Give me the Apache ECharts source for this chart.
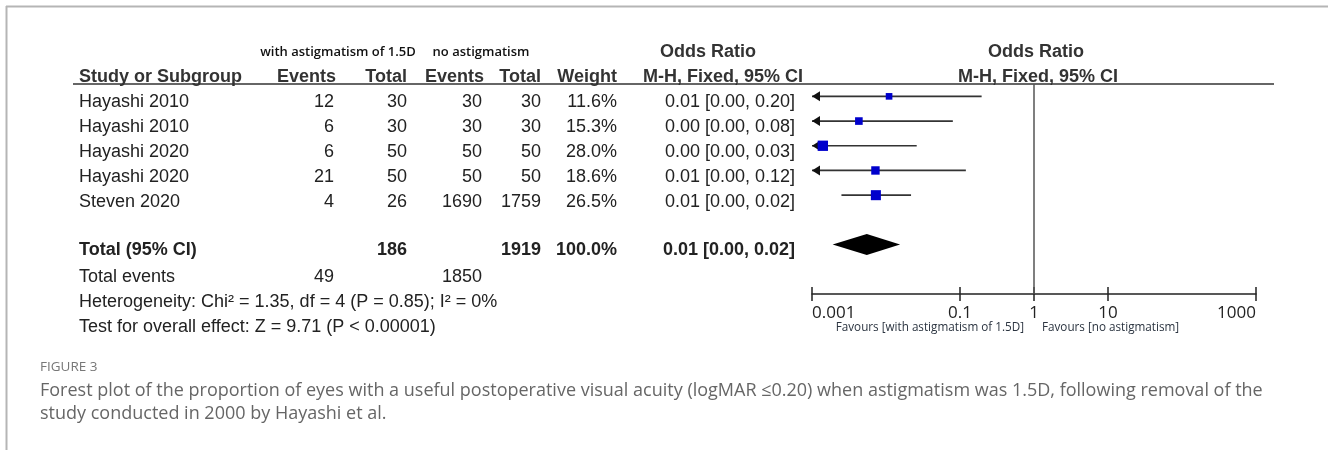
<!DOCTYPE html>
<html>
<head>
<meta charset="utf-8">
<script src="https://cdn.jsdelivr.net/npm/echarts@6/dist/echarts.min.js"></script>
<style>
html, body { margin: 0; padding: 0; background: #fff; }
#echart-box { width: 1328px; height: 450px; }
</style>
</head>
<body>
<div id="echart-box"></div>
<script>
// study data
var studies = ['Hayashi 2010', 'Hayashi 2010', 'Hayashi 2020', 'Hayashi 2020', 'Steven 2020'];
var eventsA = [12, 6, 6, 21, 4];
var totalA = [30, 30, 50, 50, 26];
var eventsB = [30, 30, 50, 50, 1690];
var totalB = [30, 30, 50, 50, 1759];
var weights = [11.6, 15.3, 28.0, 18.6, 26.5];
var oddsRatio = [0.011, 0.0043, 0.0014, 0.0072, 0.0073];
var ciLow = [0.0006, 0.0002, 0.0001, 0.0004, 0.0025];
var ciHigh = [0.196, 0.08, 0.026, 0.12, 0.0218];
var pooledOR = 0.0055;
var pooledLow = 0.0019;
var pooledHigh = 0.0155;
var axisTicks = [0.001, 0.1, 1, 10, 1000];

var X_MIN = 0.001, X_MAX = 1000;
var TOTAL_ROW = 6;

function sum(a) { return a.reduce(function (s, v) { return s + v; }, 0); }
function fmtCI(or, lo, hi) {
  return or.toFixed(2) + ' [' + lo.toFixed(2) + ', ' + hi.toFixed(2) + ']';
}

var SANS = '"Liberation Sans", Arial, sans-serif';
var SOFT = '"Open Sans", sans-serif';

function txt(x, y, text, align, opts) {
  opts = opts || {};
  return {
    type: 'text', x: x, y: y, silent: true,
    style: {
      text: text,
      fill: opts.color || '#222',
      font: (opts.weight || 'normal') + ' ' + (opts.size || 18) + 'px ' + (opts.family || SANS),
      align: align,
      verticalAlign: 'middle'
    }
  };
}

function init() {
  const element = document.getElementById('echart-box');
  const instance = echarts.init(element);

  var graphics = [];
  // frame of the figure panel
  graphics.push({ type: 'line', shape: { x1: 6.5, y1: 6, x2: 6.5, y2: 450 }, style: { stroke: '#b5b5b5', lineWidth: 2 } });
  graphics.push({ type: 'line', shape: { x1: 6, y1: 6.5, x2: 1328, y2: 6.5 }, style: { stroke: '#b5b5b5', lineWidth: 2 } });
  // header rule
  graphics.push({ type: 'line', shape: { x1: 73, y1: 84, x2: 1274, y2: 84 }, style: { stroke: '#333', lineWidth: 1.5 } });

  var hd = { weight: 'bold', color: '#333' };
  var grp = { weight: '600', size: 13, family: SOFT, color: '#111' };
  graphics.push(txt(338, 52, 'with astigmatism of 1.5D', 'center', grp));
  graphics.push(txt(481, 52, 'no astigmatism', 'center', grp));
  graphics.push(txt(708, 52, 'Odds Ratio', 'center', hd));
  graphics.push(txt(1036, 52, 'Odds Ratio', 'center', hd));

  var hy = 77;
  graphics.push(txt(79, hy, 'Study or Subgroup', 'left', hd));
  graphics.push(txt(336, hy, 'Events', 'right', hd));
  graphics.push(txt(407, hy, 'Total', 'right', hd));
  graphics.push(txt(484, hy, 'Events', 'right', hd));
  graphics.push(txt(541, hy, 'Total', 'right', hd));
  graphics.push(txt(617, hy, 'Weight', 'right', hd));
  graphics.push(txt(803, hy, 'M-H, Fixed, 95% CI', 'right', hd));
  graphics.push(txt(1038, hy, 'M-H, Fixed, 95% CI', 'center', hd));

  for (var i = 0; i < studies.length; i++) {
    var y = 102.5 + i * 25;
    graphics.push(txt(79, y, studies[i], 'left'));
    graphics.push(txt(334, y, String(eventsA[i]), 'right'));
    graphics.push(txt(407, y, String(totalA[i]), 'right'));
    graphics.push(txt(482, y, String(eventsB[i]), 'right'));
    graphics.push(txt(541, y, String(totalB[i]), 'right'));
    graphics.push(txt(617, y, weights[i].toFixed(1) + '%', 'right'));
    graphics.push(txt(795, y, fmtCI(oddsRatio[i], ciLow[i], ciHigh[i]), 'right'));
  }

  var bold = { weight: 'bold' };
  var ty = 250;
  graphics.push(txt(79, ty, 'Total (95% CI)', 'left', bold));
  graphics.push(txt(407, ty, String(sum(totalA)), 'right', bold));
  graphics.push(txt(541, ty, String(sum(totalB)), 'right', bold));
  graphics.push(txt(617, ty, sum(weights).toFixed(1) + '%', 'right', bold));
  graphics.push(txt(795, ty, fmtCI(pooledOR, pooledLow, pooledHigh), 'right', bold));

  graphics.push(txt(79, 277, 'Total events', 'left'));
  graphics.push(txt(334, 277, String(sum(eventsA)), 'right'));
  graphics.push(txt(482, 277, String(sum(eventsB)), 'right'));
  graphics.push(txt(79, 302, 'Heterogeneity: Chi\u00b2 = 1.35, df = 4 (P = 0.85); I\u00b2 = 0%', 'left'));
  graphics.push(txt(79, 327, 'Test for overall effect: Z = 9.71 (P < 0.00001)', 'left'));

  var fav = { size: 11.7, family: SOFT, color: '#2b3440' };
  graphics.push(txt(1024, 328, 'Favours [with astigmatism of 1.5D]', 'right', fav));
  graphics.push(txt(1042, 328, 'Favours [no astigmatism]', 'left', fav));

  // caption
  graphics.push(txt(40, 367, 'FIGURE 3', 'left', { size: 13.5, family: SOFT, color: '#777' }));
  var cap = { size: 18, family: SOFT, color: '#666' };
  graphics.push(txt(40, 391, 'Forest plot of the proportion of eyes with a useful postoperative visual acuity (logMAR \u22640.20) when astigmatism was 1.5D, following removal of the', 'left', cap));
  graphics.push(txt(40, 414, 'study conducted in 2000 by Hayashi et al.', 'left', cap));

  var studyData = [];
  for (var k = 0; k < studies.length; k++) {
    studyData.push([ciLow[k], ciHigh[k], oddsRatio[k], k, weights[k]]);
  }

  var plotGrid = { left: 812, right: 72, top: 84, bottom: 156 };

  option = {
    animation: false,
    backgroundColor: '#fff',
    textStyle: { fontFamily: SANS },
    // second grid is the same box, only used for the upper half of the crossing ticks
    grid: [plotGrid, plotGrid],
    xAxis: [
      {
        type: 'log', logBase: 10, min: X_MIN, max: X_MAX,
        position: 'bottom', gridIndex: 0,
        splitLine: { show: false },
        axisLine: { show: true, onZero: false, lineStyle: { color: '#222', width: 1.5 } },
        axisTick: { show: true, customValues: axisTicks, length: 7, lineStyle: { color: '#222', width: 1.5 } },
        axisLabel: {
          show: true, customValues: axisTicks, margin: 11,
          fontSize: 17, fontFamily: SOFT, color: '#222',
          alignMinLabel: 'left', alignMaxLabel: 'right',
          formatter: function (v) { return String(v); }
        }
      },
      {
        type: 'log', logBase: 10, min: X_MIN, max: X_MAX,
        position: 'bottom', gridIndex: 1,
        splitLine: { show: false },
        axisLine: { show: false, onZero: false },
        axisTick: { show: true, inside: true, customValues: axisTicks, length: 7, lineStyle: { color: '#222', width: 1.5 } },
        axisLabel: { show: false }
      }
    ],
    yAxis: [
      { type: 'value', min: -0.5, max: 8, inverse: true, show: false, gridIndex: 0 },
      { type: 'value', min: -0.5, max: 8, inverse: true, show: false, gridIndex: 1 }
    ],
    graphic: graphics,
    series: [
      {
        type: 'custom',
        clip: false,
        xAxisIndex: 0, yAxisIndex: 0,
        encode: { x: [0, 1, 2], y: 3 },
        data: studyData,
        renderItem: function (params, api) {
          var row = api.value(3);
          var lo = api.value(0), hi = api.value(1), or = api.value(2);
          var side = 1.95 * Math.sqrt(api.value(4));
          var p0 = api.coord([Math.max(lo, X_MIN), row]);
          var p1 = api.coord([hi, row]);
          var pc = api.coord([or, row]);
          var children = [{
            type: 'line',
            shape: { x1: p0[0], y1: p0[1], x2: p1[0], y2: p1[1] },
            style: { stroke: '#333', lineWidth: 1.7 }
          }];
          if (lo < X_MIN) {
            children.push({
              type: 'polygon',
              shape: { points: [[p0[0], p0[1]], [p0[0] + 8, p0[1] - 5], [p0[0] + 8, p0[1] + 5]] },
              style: { fill: '#111' }
            });
          }
          children.push({
            type: 'rect',
            shape: { x: pc[0] - side / 2, y: pc[1] - side / 2, width: side, height: side },
            style: { fill: '#0000cc' }
          });
          return { type: 'group', children: children };
        }
      },
      {
        type: 'custom',
        clip: false,
        xAxisIndex: 0, yAxisIndex: 0,
        encode: { x: [0, 1, 2], y: 3 },
        data: [[pooledLow, pooledHigh, pooledOR, TOTAL_ROW]],
        renderItem: function (params, api) {
          var row = api.value(3);
          var pl = api.coord([api.value(0), row]);
          var ph = api.coord([api.value(1), row]);
          var pc = api.coord([api.value(2), row]);
          return {
            type: 'polygon',
            shape: { points: [[pl[0], pl[1]], [pc[0], pc[1] - 10.5], [ph[0], ph[1]], [pc[0], pc[1] + 10.5]] },
            style: { fill: '#000' }
          };
        },
        markLine: {
          silent: true,
          symbol: 'none',
          label: { show: false },
          lineStyle: { color: '#555', width: 1.5, type: 'solid' },
          data: [{ xAxis: 1 }]
        }
      }
    ]
  };
  option && instance.setOption(option);

  window.onresize = function () {
    instance.resize();
  };
}
init();
</script>
</body>
</html>
